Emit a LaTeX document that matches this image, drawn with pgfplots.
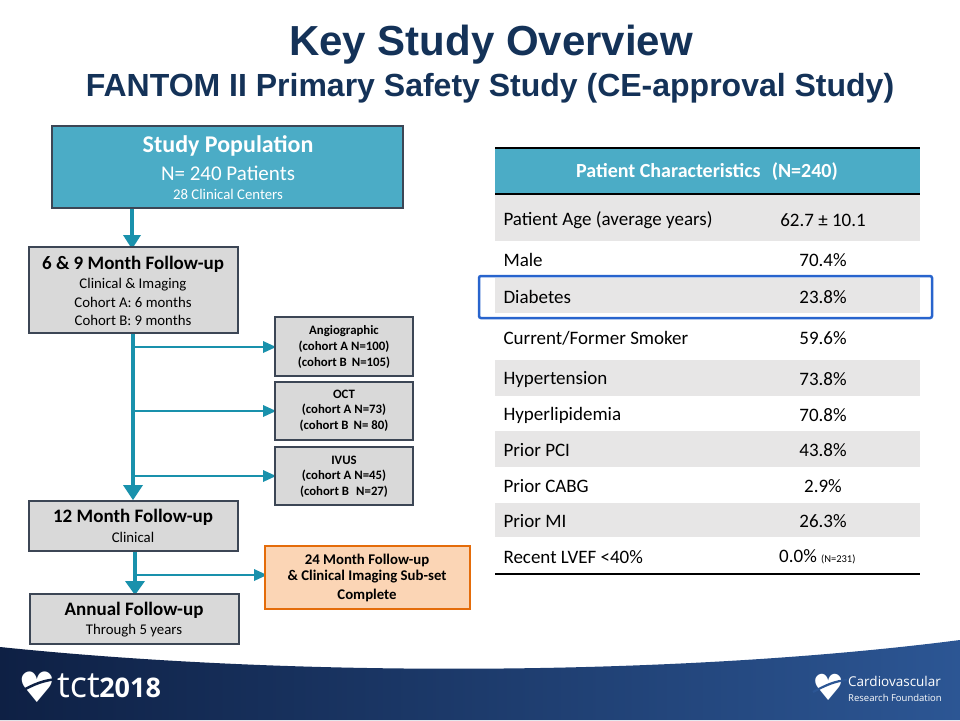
\documentclass[border=0pt]{standalone}
\usepackage{pgfplots}
\pgfplotsset{compat=1.18}
\usepackage{fontspec}
\setmainfont{Carlito}
\newfontfamily\arialfont{Liberation Sans}
\newfontfamily\symfont{DejaVu Sans}
\newfontfamily\latofont{Open Sans}
\newcommand{\fs}[2]{\fontsize{#1}{#2}\selectfont}
\definecolor{teal}{RGB}{75,172,198}
\definecolor{arrowteal}{RGB}{25,145,172}
\definecolor{boxgray}{RGB}{217,217,217}
\definecolor{bordercol}{RGB}{60,70,85}
\definecolor{peach}{RGB}{251,213,181}
\definecolor{orangeb}{RGB}{228,108,10}
\definecolor{rowgray}{RGB}{231,230,230}
\definecolor{hiblue}{RGB}{40,100,205}
\definecolor{navyL}{RGB}{14,32,68}
\definecolor{navyR}{RGB}{44,86,148}
\definecolor{titleblue}{RGB}{20,50,88}
\begin{document}
\begin{tikzpicture}
\begin{axis}[scale only axis, width=960pt, height=720pt,
  xmin=0, xmax=960, ymin=0, ymax=720, y dir=reverse,
  axis lines=none, clip=false]
% background
\fill[white] (0,0) rectangle (960,720);
% title
\node[text=titleblue, font=\arialfont\bfseries\fs{42}{46}] at (491,45) {Key Study Overview};
\node[text=titleblue, font=\arialfont\bfseries\fs{32}{36}] at (490,88) {FANTOM II Primary Safety Study (CE-approval Study)};
% ---------- flow chart ----------
% arrows
\draw[arrowteal, line width=4pt] (132,208) -- (132,236);
\fill[arrowteal] (123,235) -- (141,235) -- (132,249) -- cycle;
\draw[arrowteal, line width=4pt] (133,333) -- (133,486);
\fill[arrowteal] (123,485) -- (143,485) -- (133,500) -- cycle;
\draw[arrowteal, line width=2.2pt] (133,347) -- (265,347);
\fill[arrowteal] (263,341) -- (263,353) -- (276,347) -- cycle;
\draw[arrowteal, line width=2.2pt] (133,411) -- (265,411);
\fill[arrowteal] (263,405) -- (263,417) -- (276,411) -- cycle;
\draw[arrowteal, line width=2.2pt] (133,476) -- (265,476);
\fill[arrowteal] (263,470) -- (263,482) -- (276,476) -- cycle;
\draw[arrowteal, line width=4pt] (135,551) -- (135,582);
\fill[arrowteal] (125,581) -- (145,581) -- (135,595) -- cycle;
\draw[arrowteal, line width=2.2pt] (135,575) -- (256,575);
\fill[arrowteal] (254,569) -- (254,581) -- (267,575) -- cycle;
% boxes
\draw[fill=teal, draw=bordercol, line width=2pt] (52,126) rectangle (403,208);
\node[white, font=\bfseries\fs{24}{28}] at (228,146) {Study Population};
\node[white, font=\fs{21}{24}] at (228,173) {N= 240 Patients};
\node[white, font=\fs{14.8}{17}] at (228,194) {28 Clinical Centers};

\draw[fill=boxgray, draw=bordercol, line width=2pt] (29,247) rectangle (238,333);
\node[font=\bfseries\fs{19}{22}] at (133,264) {6 \& 9 Month Follow-up};
\node[font=\fs{14.8}{17}] at (133,285) {Clinical \& Imaging};
\node[font=\fs{14.8}{17}] at (133,302) {Cohort A: 6 months};
\node[font=\fs{14.8}{17}] at (133,320) {Cohort B: 9 months};

\draw[fill=boxgray, draw=bordercol, line width=2pt] (275,317) rectangle (413,376);
\node[font=\bfseries\fs{12.8}{15}] at (344,331) {Angiographic};
\node[font=\bfseries\fs{12.8}{15}] at (344,347) {(cohort A N=100)};
\node[font=\bfseries\fs{12.8}{15}] at (344,363) {(cohort B\, N=105)};

\draw[fill=boxgray, draw=bordercol, line width=2pt] (275,382) rectangle (413,440);
\node[font=\bfseries\fs{12.8}{15}] at (344,394) {OCT};
\node[font=\bfseries\fs{12.8}{15}] at (344,410) {(cohort A N=73)};
\node[font=\bfseries\fs{12.8}{15}] at (344,426) {(cohort B\, N= 80)};

\draw[fill=boxgray, draw=bordercol, line width=2pt] (275,447) rectangle (413,505);
\node[font=\bfseries\fs{12.8}{15}] at (344,460) {IVUS};
\node[font=\bfseries\fs{12.8}{15}] at (344,476) {(cohort A N=45)};
\node[font=\bfseries\fs{12.8}{15}] at (344,492) {(cohort B\,\, N=27)};

\draw[fill=boxgray, draw=bordercol, line width=2pt] (29,501) rectangle (238,551);
\node[font=\bfseries\fs{19}{22}] at (133,517) {12 Month Follow-up};
\node[font=\fs{14.8}{17}] at (133,537) {Clinical};

\draw[fill=peach, draw=orangeb, line width=2pt] (265,546) rectangle (470,609);
\node[font=\bfseries\fs{14.8}{17}] at (367,560) {24 Month Follow-up};
\node[font=\bfseries\fs{14.8}{17}] at (367,577) {\& Clinical Imaging Sub-set};
\node[font=\bfseries\fs{14.8}{17}] at (367,595) {Complete};

\draw[fill=boxgray, draw=bordercol, line width=2pt] (30,594) rectangle (239,644);
\node[font=\bfseries\fs{19}{22}] at (134,610) {Annual Follow-up};
\node[font=\fs{14.8}{17}] at (134,631) {Through 5 years};
% ---------- table ----------
\fill[teal] (495,149) rectangle (920,194);
\fill[rowgray] (495,195) rectangle (920,241);
\fill[rowgray] (495,278) rectangle (920,313);
\fill[rowgray] (495,360) rectangle (920,396);
\fill[rowgray] (495,431) rectangle (920,467);
\fill[rowgray] (495,503) rectangle (920,537);
\draw[black, line width=2.2pt] (495,148) -- (920,148);
\draw[black, line width=1.5pt] (495,194) -- (920,194);
\draw[black, line width=2.2pt] (495,574) -- (920,574);
\node[white, font=\bfseries\fs{20}{23}] at (707,172) {Patient Characteristics\,\, (N=240)};
\node[anchor=west, font=\fs{19}{22}] at (500,220) {Patient Age (average years)};
\node[font=\fs{19}{22}] at (823,220) {62.7 ± 10.1};
\node[anchor=west, font=\fs{19}{22}] at (500,260) {Male};
\node[font=\fs{19}{22}] at (823,260) {70.4\%};
\node[anchor=west, font=\fs{19}{22}] at (500,297) {Diabetes};
\node[font=\fs{19}{22}] at (823,297) {23.8\%};
\node[anchor=west, font=\fs{19}{22}] at (500,338) {Current/Former Smoker};
\node[font=\fs{19}{22}] at (823,338) {59.6\%};
\node[anchor=west, font=\fs{19}{22}] at (500,379) {Hypertension};
\node[font=\fs{19}{22}] at (823,379) {73.8\%};
\node[anchor=west, font=\fs{19}{22}] at (500,415) {Hyperlipidemia};
\node[font=\fs{19}{22}] at (823,415) {70.8\%};
\node[anchor=west, font=\fs{19}{22}] at (500,450) {Prior PCI};
\node[font=\fs{19}{22}] at (823,450) {43.8\%};
\node[anchor=west, font=\fs{19}{22}] at (500,486) {Prior CABG};
\node[font=\fs{19}{22}] at (823,486) {2.9\%};
\node[anchor=west, font=\fs{19}{22}] at (500,521) {Prior MI};
\node[font=\fs{19}{22}] at (823,521) {26.3\%};
\node[anchor=west, font=\fs{19}{22}] at (500,557) {Recent LVEF <40\%};
\node[anchor=west, font=\fs{19}{22}, inner sep=0pt] at (779,557) {0.0\% {\fs{10.5}{12}(N=231)}};
% highlight
\draw[hiblue, line width=2.5pt, rounded corners=2pt] (479,276) rectangle (932,318);
% ---------- footer ----------
\shade[left color=navyL, right color=navyR] (0,647) .. controls (300,678) and (680,676) .. (960,640) -- (960,720) -- (0,720) -- cycle;
\node[white, font=\symfont\fs{42}{44}] at (37,687) {♥};
\draw[navyL, line width=2.5pt] (20,692) .. controls (34,684) and (44,680) .. (58,679);
\node[white, font=\latofont\fs{36}{40}, anchor=west, inner sep=0pt] at (57,686) {tct\kern-0.5pt{\bfseries\fs{27}{32}2018}};
\node[white, font=\symfont\fs{36}{38}] at (829,687) {♥};
\draw[navyR, line width=2.2pt] (813,692) .. controls (826,685) and (835,681) .. (847,680);
\node[white, font=\latofont\fs{13.5}{15}, anchor=west, inner sep=0pt] at (848,681) {Cardiovascular};
\node[white, font=\latofont\fs{9.5}{11}, anchor=west, inner sep=0pt] at (848,698) {Research Foundation};
\end{axis}
\end{tikzpicture}
\end{document}
